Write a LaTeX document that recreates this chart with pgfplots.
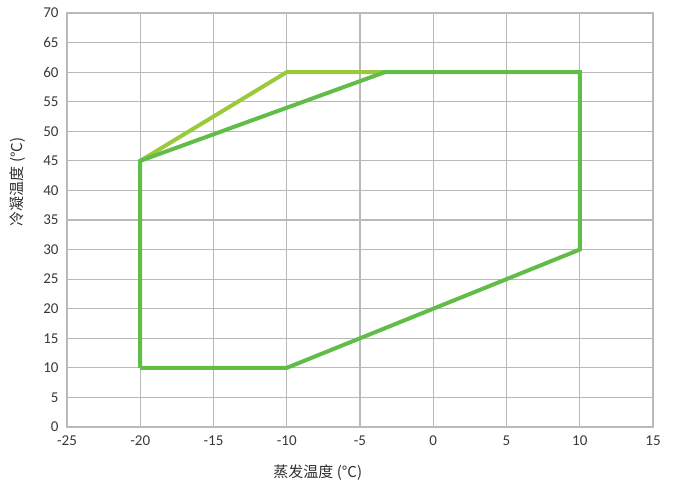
\documentclass[border=0pt]{standalone}
\usepackage{pgfplots}
\pgfplotsset{compat=1.18}
\usepackage{fontspec}
\setmainfont{Carlito}
\newfontfamily\cjk{Noto Sans CJK SC}
\definecolor{dkgreen}{RGB}{98,189,72}
\definecolor{ltgreen}{RGB}{154,202,60}
\definecolor{gridgray}{RGB}{185,185,185}
\begin{document}
\begin{tikzpicture}
\path[use as bounding box] (-67pt,-63pt) rectangle (611pt,427pt);
\begin{axis}[
  scale only axis,
  width=586pt, height=414pt,
  xmin=-25, xmax=15, ymin=0, ymax=70,
  xtick={-25,-20,...,15}, ytick={0,5,...,70},
  grid=major,
  major grid style={gridgray, line width=1.1pt},
  axis line style={gridgray, line width=1.1pt},
  major tick length=0pt,
  tick label style={font=\fontsize{15}{17}\selectfont, text=black!78},
  xticklabel style={yshift=-5pt},
  yticklabel style={xshift=-5pt},
  /pgf/number format/assume math mode=true,
  xlabel={\cjk 蒸发温度 (°C)},
  ylabel={\cjk 冷凝温度 (°C)},
  xlabel style={at={(axis description cs:0.428,-0.111)}, anchor=center, font=\fontsize{15}{17}\selectfont, text=black!82},
  ylabel style={at={(axis description cs:-0.0836,0.592)}, anchor=center, font=\fontsize{15}{17}\selectfont, text=black!82},
  clip=false,
]
\addplot[ltgreen, line width=4pt, line join=round] coordinates {
  (-20,45) (-10,60) (-3.3,60)
};
\addplot[dkgreen, line width=4pt, line join=miter] coordinates {
  (-20,10) (-10,10) (10,30) (10,60) (-3.3,60) (-20,45) (-20,10)
};
\end{axis}
\end{tikzpicture}
\end{document}
